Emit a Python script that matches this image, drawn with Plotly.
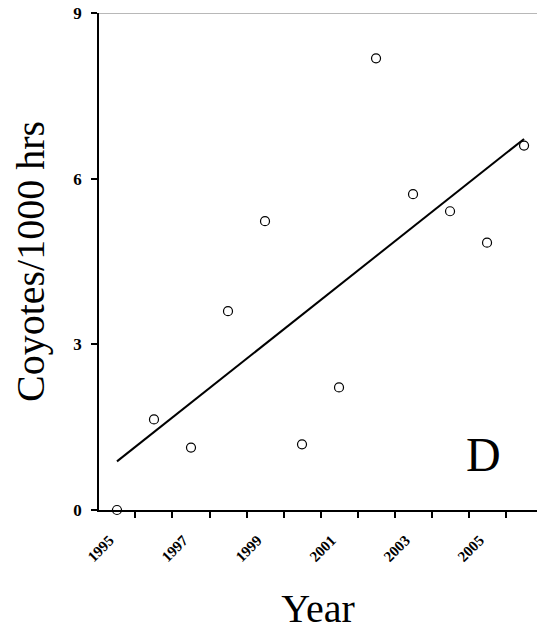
import plotly.graph_objects as go

years = ["1995", "1996", "1997", "1998", "1999", "2000", "2001", "2002", "2003", "2004", "2005", "2006"]
coyotes = [0.0, 1.64, 1.13, 3.60, 5.23, 1.19, 2.22, 8.18, 5.72, 5.41, 4.84, 6.60]
trend_ends = [0.88, 6.72]
year_labels = ["1995", "1997", "1999", "2001", "2003", "2005"]
y_ticks = [0, 3, 6, 9]

idx = list(range(len(years)))
label_pos = [years.index(y) - 0.2 for y in year_labels]
boundaries = [i - 0.5 for i in range(len(years) + 1)]

serif = "Liberation Serif, Times New Roman, serif"

fig = go.Figure()
fig.add_trace(go.Scatter(
    x=[idx[0], idx[-1]], y=trend_ends, mode="lines",
    line=dict(color="black", width=2), showlegend=False, hoverinfo="skip"))
fig.add_trace(go.Scatter(
    x=idx, y=coyotes, mode="markers",
    marker=dict(symbol="circle-open", size=9, color="black", line=dict(width=1.2)),
    showlegend=False, cliponaxis=False))

fig.update_layout(
    width=537, height=635,
    margin=dict(l=99, r=0, t=13, b=125),
    paper_bgcolor="white", plot_bgcolor="white",
    font=dict(family=serif, color="black"),
    xaxis=dict(
        range=[-0.486, 11.35],
        automargin=False,
        tickmode="array", tickvals=label_pos, ticktext=year_labels,
        tickangle=-45, ticks="", ticklen=0,
        tickfont=dict(size=15, family=serif, color="black", weight="bold"),
        ticklabelstandoff=14,
        minor=dict(tickmode="array", tickvals=boundaries, ticks="outside",
                   ticklen=6, tickwidth=1.5, tickcolor="black", showgrid=False),
        showline=True, linecolor="black", linewidth=1.5,
        showgrid=False, zeroline=False,
        title=dict(text="Year", font=dict(size=40, family=serif, color="black"), standoff=30),
    ),
    yaxis=dict(
        range=[0, 9],
        automargin=False,
        tickmode="array", tickvals=y_ticks,
        ticks="outside", ticklen=6, tickwidth=1.5, tickcolor="black",
        tickfont=dict(size=17, family=serif, color="black", weight="bold"),
        ticklabelstandoff=6,
        showline=True, linecolor="black", linewidth=1.5,
        showgrid=False, zeroline=False,
        title=dict(text="Coyotes/1000 hrs", font=dict(size=40, family=serif, color="black"), standoff=16),
    ),
    shapes=[dict(type="line", xref="paper", yref="y", x0=0, x1=1, y0=9, y1=9,
                 line=dict(color="#a0a0a0", width=1.5))],
    annotations=[dict(text="D", xref="x", yref="y", x=9.9, y=1.0,
                      showarrow=False, font=dict(size=48, family=serif, color="black"))],
)

fig.write_html("out.html", config={"displayModeBar": False},
               post_script="document.body.style.margin='0';")
